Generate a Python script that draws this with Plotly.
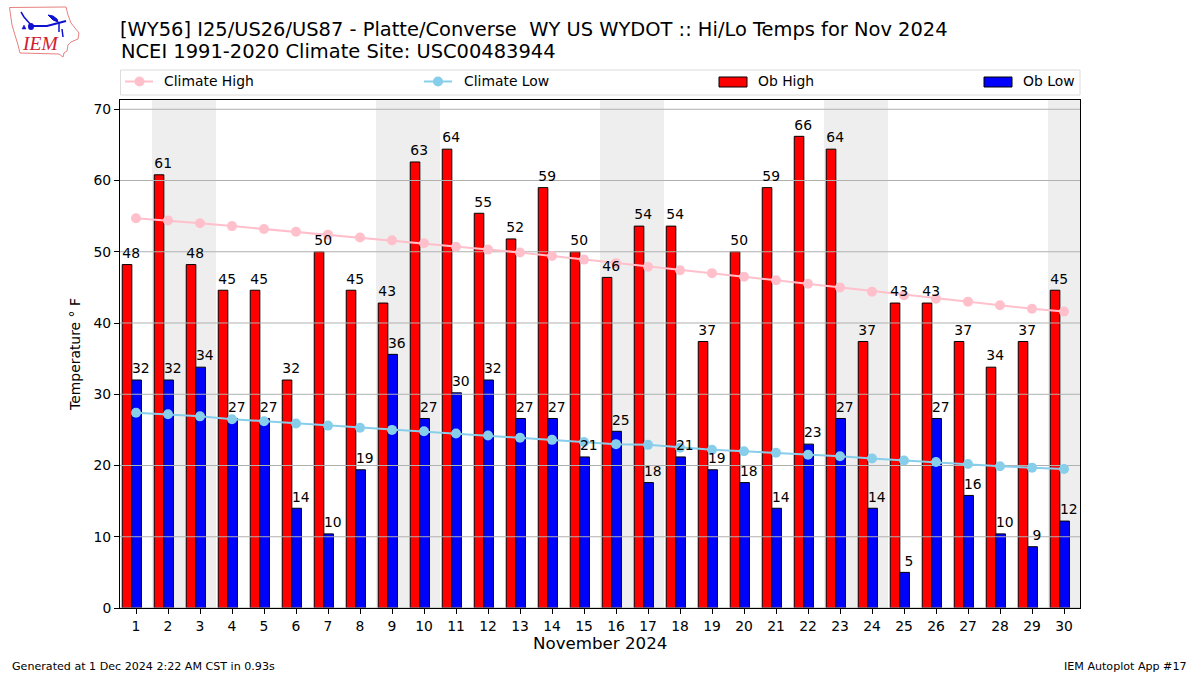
import plotly.graph_objects as go

days = list(range(1, 31))
ob_high = [48.2, 60.8, 48.2, 44.6, 44.6, 32, 50, 44.6, 42.8, 62.6, 64.4, 55.4, 51.8, 59, 50,
           46.4, 53.6, 53.6, 37.4, 50, 59, 66.2, 64.4, 37.4, 42.8, 42.8, 37.4, 33.8, 37.4, 44.6]
ob_low = [32, 32, 33.8, 26.6, 26.6, 14, 10.4, 19.4, 35.6, 26.6, 30.2, 32, 26.6, 26.6, 21.2,
          24.8, 17.6, 21.2, 19.4, 17.6, 14, 23, 26.6, 14, 5, 26.6, 15.8, 10.4, 8.6, 12.2]
climate_high = [54.7, 54.4, 54.0, 53.6, 53.2, 52.8, 52.4, 52.0, 51.6, 51.2, 50.7, 50.3, 49.9, 49.4, 48.9,
                48.4, 47.9, 47.4, 47.0, 46.5, 46.0, 45.5, 45.0, 44.4, 43.9, 43.4, 43.0, 42.5, 42.0, 41.6]
climate_low = [27.4, 27.2, 26.9, 26.5, 26.2, 25.9, 25.6, 25.3, 25.0, 24.8, 24.5, 24.2, 23.9, 23.6, 23.3,
               23.0, 22.9, 22.5, 22.2, 22.0, 21.8, 21.5, 21.3, 21.0, 20.7, 20.5, 20.2, 19.9, 19.7, 19.5]
weekend_spans = [(1.5, 3.5), (8.5, 10.5), (15.5, 17.5), (22.5, 24.5), (29.5, 30.5)]
y_ticks = [0, 10, 20, 30, 40, 50, 60, 70]
legend_labels = ["Climate High", "Climate Low", "Ob High", "Ob Low"]
title_line1 = "[WY56] I25/US26/US87 - Platte/Converse  WY US WYDOT :: Hi/Lo Temps for Nov 2024"
title_line2 = "NCEI 1991-2020 Climate Site: USC00483944"

FONT = "DejaVu Sans"
W, H = 1200, 675
L, R, T, B = 120, 1080, 100, 608
LABEL_GAP = 0.45
HIGH_OFFSET = -0.43
LOW_OFFSET = -0.13
HIGH_LABEL_X = -0.15
LOW_LABEL_X = 0.15


def px(x):
    return (x - L) / (R - L)


def py(y):
    return (B - y) / (B - T)


fig = go.Figure()

fig.add_bar(x=days, y=ob_high, offset=HIGH_OFFSET, width=0.3, name="Ob High",
            marker=dict(color="#ff0000", line=dict(color="black", width=1)))
fig.add_bar(x=days, y=ob_low, offset=LOW_OFFSET, width=0.3, name="Ob Low",
            marker=dict(color="#0000ff", line=dict(color="black", width=1)))

# Grid lines sit above the bars but below the climate lines
gx, gy = [], []
for t in y_ticks:
    gx += [0.5, 30.5, None]
    gy += [t, t, None]
fig.add_scatter(x=gx, y=gy, mode="lines", line=dict(color="#b0b0b0", width=1),
                hoverinfo="skip", showlegend=False)

fig.add_scatter(x=days, y=climate_high, mode="lines+markers", name="Climate High",
                line=dict(color="#ffc0cb", width=2), marker=dict(color="#ffc0cb", size=10))
fig.add_scatter(x=days, y=climate_low, mode="lines+markers", name="Climate Low",
                line=dict(color="#87ceeb", width=2), marker=dict(color="#87ceeb", size=10))

fig.add_scatter(x=[d + HIGH_LABEL_X for d in days], y=[v + LABEL_GAP for v in ob_high], mode="text", showlegend=False,
                text=[str(round(v)) for v in ob_high], textposition="top center",
                textfont=dict(family=FONT, size=13.9, color="black"), hoverinfo="skip", cliponaxis=False)
fig.add_scatter(x=[d + LOW_LABEL_X for d in days], y=[v + LABEL_GAP for v in ob_low], mode="text", showlegend=False,
                text=[str(round(v)) for v in ob_low], textposition="top center",
                textfont=dict(family=FONT, size=13.9, color="black"), hoverinfo="skip", cliponaxis=False)

shapes = []
for a, b in weekend_spans:
    shapes.append(dict(type="rect", xref="x", yref="paper", x0=a, x1=b, y0=0, y1=1,
                       fillcolor="#eeeeee", line=dict(width=0), layer="below"))


def pshape(kind, x0, y0, x1, y1, **kw):
    shapes.append(dict(type=kind, xref="paper", yref="paper", x0=px(x0), x1=px(x1),
                       y0=py(y0), y1=py(y1), **kw))


def ppath(points, close=False, **kw):
    d = "M " + " L ".join(f"{px(a):.5f},{py(b):.5f}" for a, b in points) + (" Z" if close else "")
    shapes.append(dict(type="path", xref="paper", yref="paper", path=d, **kw))


# Legend frame and keys
pshape("rect", 120.5, 70, 1080, 95, line=dict(color="#dcdcdc", width=1), fillcolor="white")
pshape("line", 125, 81.5, 153, 81.5, line=dict(color="#ffc0cb", width=2))
pshape("circle", 134.5, 76.5, 144.5, 86.5, fillcolor="#ffc0cb", line=dict(width=0))
pshape("line", 424, 81.5, 452, 81.5, line=dict(color="#87ceeb", width=2))
pshape("circle", 433, 76.5, 443, 86.5, fillcolor="#87ceeb", line=dict(width=0))
pshape("rect", 719, 77, 747, 87, fillcolor="#ff0000", line=dict(color="black", width=1))
pshape("rect", 984, 77, 1012, 87, fillcolor="#0000ff", line=dict(color="black", width=1))

# Logo
BLUE = "#1010d0"
ppath([(9.5, 7.5), (66, 7), (68, 15), (71, 23), (75, 28), (79, 33), (78, 39), (71, 42), (68, 45), (67, 51),
       (64, 53), (63, 57), (59, 54), (20, 53), (18, 45), (15, 35), (12, 25)], close=True,
      line=dict(color="#e88080", width=1))
ppath([(31, 26), (47, 26), (66, 21)], line=dict(color=BLUE, width=2))
ppath([(48, 15), (53, 16), (57, 19), (58, 22), (53, 20)], close=True, fillcolor=BLUE, line=dict(color=BLUE, width=1))
ppath([(59, 22), (59, 32)], line=dict(color=BLUE, width=1.5))
ppath([(62, 29), (63, 37)], line=dict(color=BLUE, width=1.5))
ppath([(21, 12), (24, 17), (31, 25)], line=dict(color=BLUE, width=1.5))
ppath([(22, 29), (26, 29), (24, 25)], close=True, fillcolor=BLUE, line=dict(color=BLUE, width=0.5))
pshape("circle", 28, 23, 34, 30, fillcolor=BLUE, line=dict(width=0))

annotations = []


def note(x, y, text, size, xanchor="left", color="black", **kw):
    annotations.append(dict(xref="paper", yref="paper", x=px(x), y=py(y), text=text, showarrow=False,
                            xanchor=xanchor, yanchor="middle", xshift=0, yshift=0,
                            font=dict(family=kw.pop("family", FONT), size=size, color=color),
                            borderpad=0, **kw))


note(120, 51.5, title_line2, 19.44)
note(163, 80.5, legend_labels[0], 13.9)
note(463, 80.5, legend_labels[1], 13.9)
note(757, 80.5, legend_labels[2], 13.9)
note(1022, 80.5, legend_labels[3], 13.9)
note(600, 643.5, "November 2024", 16.67, xanchor="center")
note(11, 666, "Generated at 1 Dec 2024 2:22 AM CST in 0.93s", 11.1)
note(1188, 666, "IEM Autoplot App #17", 11.1, xanchor="right")
note(21, 44, "<i>IEM</i>", 19.5, color="#d02030", family="Liberation Serif")

fig.update_layout(
    width=W, height=H, autosize=False,
    margin=dict(l=L, r=W - R, t=T, b=H - B, pad=0),
    paper_bgcolor="white", plot_bgcolor="rgba(0,0,0,0)",
    barmode="overlay", showlegend=False,
    font=dict(family=FONT, size=14, color="black"),
    title=dict(text=title_line1, xref="paper", x=0, xanchor="left", yref="container",
               y=1 - 29 / H, yanchor="middle", font=dict(family=FONT, size=19.44, color="black"),
               pad=dict(l=0, r=0, t=0, b=0)),
    shapes=shapes, annotations=annotations,
    xaxis=dict(range=[0.5, 30.5], tickmode="array", tickvals=days, ticktext=[str(d) for d in days],
               ticks="outside", ticklen=5, tickwidth=1, tickcolor="black", showgrid=False, zeroline=False,
               showline=True, mirror=True, linecolor="black", linewidth=1,
               tickfont=dict(family=FONT, size=13.9)),
    yaxis=dict(range=[0, 71.3], tickmode="array", tickvals=y_ticks, ticks="outside", ticklen=5, tickwidth=1,
               tickcolor="black", showgrid=False, zeroline=False, showline=True, mirror=True,
               linecolor="black", linewidth=1, tickfont=dict(family=FONT, size=13.9),
               title=dict(text="Temperature ° F", font=dict(family=FONT, size=13.9), standoff=9)),
)

fig.write_html("out.html", post_script="document.body.style.margin='0';",
               config=dict(displayModeBar=False))
